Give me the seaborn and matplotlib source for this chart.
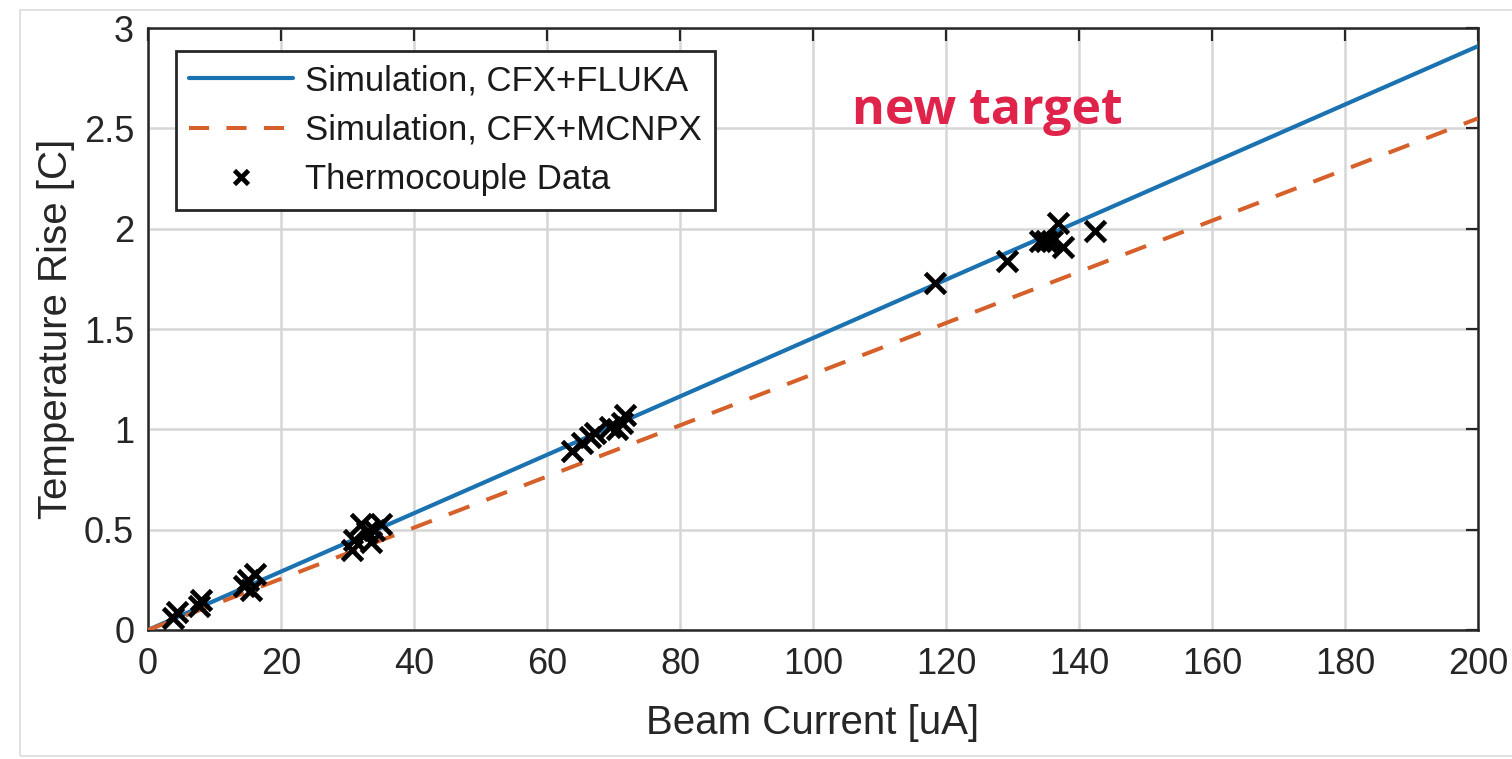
import matplotlib
matplotlib.use("Agg")
import matplotlib.pyplot as plt
import seaborn as sns
import pandas as pd
from matplotlib.patches import Rectangle
from matplotlib.lines import Line2D

# ---- data ----
sim_current = [0, 200]
sim_fluka = [0, 2.91]
sim_mcnpx = [0, 2.55]

tc_current = [3.8, 4.3, 7.6, 7.9, 14.5, 15.0, 15.5, 16.1,
              30.6, 31.0, 32.0, 33.0, 33.5, 34.0, 35.0,
              63.8, 65.3, 66.5, 67.2, 69.5, 70.6, 71.3, 71.7,
              118.3, 129.1, 134.1, 135.1, 135.9, 136.9, 137.6, 142.4]
tc_rise = [0.06, 0.09, 0.12, 0.15, 0.22, 0.25, 0.20, 0.28,
           0.40, 0.45, 0.53, 0.49, 0.44, 0.50, 0.53,
           0.89, 0.93, 0.96, 0.98, 1.01, 1.00, 1.03, 1.07,
           1.73, 1.84, 1.94, 1.94, 1.94, 2.03, 1.91, 1.99]

x_ticks = [0, 20, 40, 60, 80, 100, 120, 140, 160, 180, 200]
y_ticks = [0, 0.5, 1, 1.5, 2, 2.5, 3]
y_ticklabels = ["0", "0.5", "1", "1.5", "2", "2.5", "3"]

labels = ["Simulation, CFX+FLUKA", "Simulation, CFX+MCNPX", "Thermocouple Data"]
annotation = "new target"

# ---- style ----
sns.set_theme(style="whitegrid")
plt.rcParams["font.family"] = ["Liberation Sans", "DejaVu Sans"]

fig = plt.figure(figsize=(15.12, 7.59), dpi=100)
ax = fig.add_axes([0.0979, 0.170, 0.8796, 0.793])

blue = "#1a72b0"
orange = "#d5602a"

sim_df = pd.DataFrame({"current": sim_current, "fluka": sim_fluka, "mcnpx": sim_mcnpx})
tc_df = pd.DataFrame({"current": tc_current, "rise": tc_rise})

sns.lineplot(data=sim_df, x="current", y="fluka", ax=ax, color=blue, lw=3.0, zorder=3)
sns.lineplot(data=sim_df, x="current", y="mcnpx", ax=ax, color=orange, lw=2.9, zorder=3)
ax.lines[-1].set_dashes((5.5, 4.5))
sns.scatterplot(data=tc_df, x="current", y="rise", ax=ax, marker="x", color="black",
                s=210, linewidth=3.4, zorder=4)

ax.set_xlim(0, 200)
ax.set_ylim(0, 3)
ax.set_xticks(x_ticks)
ax.set_yticks(y_ticks)
ax.set_yticklabels(y_ticklabels)
ax.tick_params(axis="both", labelsize=26, colors="#262626", direction="in",
               length=9, width=1.6, top=True, right=True, pad=10)
ax.tick_params(axis="x", pad=12)
ax.grid(True, color="#d6d6d6", lw=1.8)
for s in ax.spines.values():
    s.set_color("#262626")
    s.set_linewidth(1.8)
    s.set_visible(True)
ax.set_facecolor("white")

ax.set_xlabel("Beam Current [uA]", fontsize=29, color="#262626", labelpad=16)
ax.set_ylabel("Temperature Rise [C]", fontsize=29, color="#262626", labelpad=6)

handles = [
    Line2D([], [], color=blue, lw=3.0),
    Line2D([], [], color=orange, lw=2.9, dashes=(5.0, 4.3)),
    Line2D([], [], color="black", marker="x", ls="none", markersize=10, mew=3.4),
]
leg = ax.legend(handles, labels, loc="upper left", bbox_to_anchor=(0.021, 0.962),
                fontsize=25, frameon=True, fancybox=False, handlelength=3.0,
                handletextpad=0.35, borderpad=0.38, labelspacing=0.48,
                borderaxespad=0)
leg.get_frame().set_edgecolor("#262626")
leg.get_frame().set_linewidth(2.0)
leg.get_frame().set_facecolor("white")
leg.get_frame().set_alpha(1)
for t in leg.get_texts():
    t.set_color("#1a1a1a")

ax.text(105.9, 2.52, annotation, color="#e0234a", fontsize=36, fontweight="bold",
        family=["Open Sans", "DejaVu Sans"], ha="left", va="baseline", zorder=5)

fig.patches.append(Rectangle((0.0132, 0.004), 0.99, 0.983, transform=fig.transFigure,
                             fill=False, edgecolor="#dcdcdc", lw=1.2, zorder=0))

fig.savefig("out.png", dpi=100, facecolor="white")
